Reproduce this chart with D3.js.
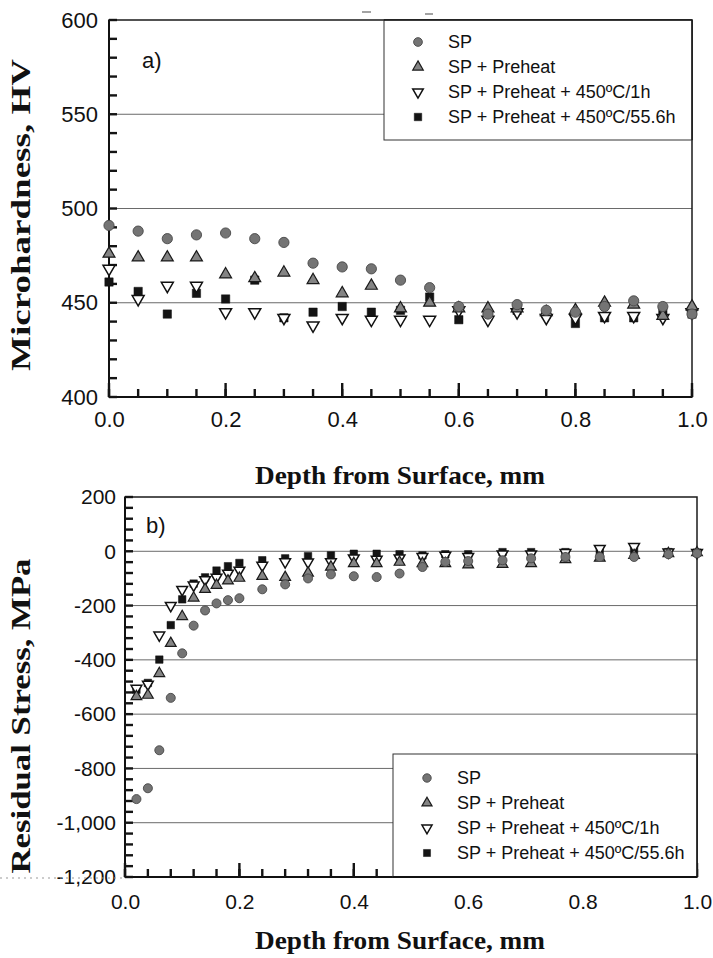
<!DOCTYPE html>
<html><head><meta charset="utf-8">
<script src="https://cdn.jsdelivr.net/npm/d3@7"></script>
<style>body{margin:0;background:#fff} svg{display:block}</style>
</head><body>
<svg id="c" width="713" height="958"></svg>
<script>
// ---------- data ----------
const seriesNames = ["SP", "SP + Preheat", "SP + Preheat + 450ºC/1h", "SP + Preheat + 450ºC/55.6h"];

// a) Microhardness
const hvDepth   = [0, 0.05, 0.10, 0.15, 0.20, 0.25, 0.30, 0.35, 0.40, 0.45, 0.50, 0.55, 0.60, 0.65, 0.70, 0.75, 0.80, 0.85, 0.90, 0.95, 1.00];
const hvSP      = [491, 488, 484, 486, 487, 484, 482, 471, 469, 468, 462, 458, 448, 444, 449, 446, 445, 448, 451, 448, 444];
const hvPreheat = [476, 474, 474, 474, 465, 463, 466, 462, 455, 459, 447, 450, 447, 447, 447, 445, 446, 450, 449, 443, 448];
const hv1h      = [468, 452, 459, 459, 445, 445, 442, 438, 442, 441, 441, 441, 446, 441, 445, 442, 442, 443, 443, 442, 445];
const hv556h    = [461, 456, 444, 455, 452, 462, 442, 445, 448, 445, 446, 453, 441, 443, 446, 444, 439, 442, 442, 445, 444];
const hvXTicks = [0, 0.2, 0.4, 0.6, 0.8, 1.0];
const hvXLabels = ["0.0", "0.2", "0.4", "0.6", "0.8", "1.0"];
const hvYTicks = [400, 450, 500, 550, 600];
const hvYLabels = ["400", "450", "500", "550", "600"];
const hvGrid = [450, 500, 550];

// b) Residual stress
const rsDepth   = [0.02, 0.04, 0.06, 0.08, 0.10, 0.12, 0.14, 0.16, 0.18, 0.20, 0.24, 0.28, 0.32, 0.36, 0.40, 0.44, 0.48, 0.52, 0.56, 0.60, 0.66, 0.71, 0.77, 0.83, 0.89, 0.95, 1.00];
const rsSP      = [-913, -873, -733, -540, -376, -274, -218, -192, -180, -173, -140, -122, -100, -85, -92, -95, -82, -58, -39, -36, -33, -26, -21, -21, -21, -11, -8];
const rsPreheat = [-535, -530, -450, -339, -240, -172, -140, -125, -109, -99, -92, -96, -80, -58, -45, -45, -40, -45, -45, -50, -48, -45, -30, -25, -15, -8, -5];
const rs1h      = [-505, -490, -309, -200, -141, -125, -105, -96, -81, -70, -52, -39, -40, -39, -25, -30, -25, -20, -15, -20, -10, -10, -5, 10, 17, -3, -5];
const rs556h    = [-510, -485, -399, -272, -177, -119, -96, -71, -55, -43, -33, -26, -18, -15, -9, -9, -11, -15, -11, -11, -3, -3, -3, -2, 5, -3, -5];
const rsXTicks = [0, 0.2, 0.4, 0.6, 0.8, 1.0];
const rsXLabels = ["0.0", "0.2", "0.4", "0.6", "0.8", "1.0"];
const rsYTicks = [-1200, -1000, -800, -600, -400, -200, 0, 200];
const rsYLabels = ["-1,200", "-1,000", "-800", "-600", "-400", "-200", "0", "200"];
const rsGrid = [-1000, -800, -600, -400, -200, 0];

// ---------- styles ----------
const sansFont = "'Liberation Sans', Arial, sans-serif";
const serifFont = "'Liberation Serif', 'Times New Roman', serif";
const tickColor = "#141414";
const markerStyles = [
  {type: d3.symbolCircle,   rot: 0,   fill: "#747474", stroke: "#474747", sw: 0.9},
  {type: d3.symbolTriangle, rot: 0,   fill: "#848484", stroke: "#1a1a1a", sw: 1.2},
  {type: d3.symbolTriangle, rot: 180, fill: "#ffffff", stroke: "#111111", sw: 1.5},
  {type: d3.symbolSquare,   rot: 0,   fill: "#141414", stroke: "#111111", sw: 0.5}
];

const svg = d3.select("#c");

function panel(cfg) {
  const g = svg.append("g");
  const x = d3.scaleLinear().domain([0, 1]).range([cfg.x0, cfg.x1]);
  const y = d3.scaleLinear().domain(cfg.yDomain).range([cfg.y1, cfg.y0]);

  // gridlines
  g.append("g").selectAll("line").data(cfg.grid).join("line")
    .attr("x1", cfg.x0).attr("x2", cfg.x1)
    .attr("y1", d => y(d)).attr("y2", d => y(d))
    .attr("stroke", "#6a6a6a").attr("stroke-width", 1);

  // tick labels
  const xl = g.append("g").attr("transform", `translate(0,${cfg.y1})`)
    .call(d3.axisBottom(x).tickValues(cfg.xTicks).tickSize(0).tickPadding(cfg.xPad).tickFormat((d, i) => cfg.xLabels[i]));
  xl.select(".domain").remove();
  xl.selectAll("text").attr("font-family", sansFont).attr("font-size", cfg.tickFs).attr("fill", "#111");
  const yl = g.append("g").attr("transform", `translate(${cfg.x0},0)`)
    .call(d3.axisLeft(y).tickValues(cfg.yTicks).tickSize(0).tickPadding(cfg.yPad).tickFormat((d, i) => cfg.yLabels[i]));
  yl.select(".domain").remove();
  yl.selectAll("text").attr("font-family", sansFont).attr("font-size", cfg.tickFs).attr("fill", "#111");

  // frame
  g.append("rect").attr("x", cfg.x0).attr("y", cfg.y0)
    .attr("width", cfg.x1 - cfg.x0).attr("height", cfg.y1 - cfg.y0)
    .attr("fill", "none").attr("stroke", "#1a1a1a").attr("stroke-width", 1.5);
  g.append("line").attr("x1", cfg.x0).attr("x2", cfg.x0).attr("y1", cfg.y0).attr("y2", cfg.y1)
    .attr("stroke", "#111").attr("stroke-width", 2);
  g.append("line").attr("x1", cfg.x0).attr("x2", cfg.x1).attr("y1", cfg.y1).attr("y2", cfg.y1)
    .attr("stroke", "#111").attr("stroke-width", 2);

  // inward ticks
  const xMinorVals = d3.range(0, 1.0001, cfg.xMinor);
  const yMinorVals = d3.range(cfg.yDomain[0], cfg.yDomain[1] + 0.001, cfg.yMinor);
  g.append("g").selectAll("rect").data(xMinorVals).join("rect")
    .attr("x", d => x(d) - 1.2).attr("y", cfg.y1 - 8).attr("width", 2.4).attr("height", 8)
    .attr("fill", tickColor);
  g.append("g").selectAll("rect").data(cfg.xTicks).join("rect")
    .attr("x", d => x(d) - 1.2).attr("y", cfg.y1 - 14).attr("width", 2.4).attr("height", 14)
    .attr("fill", tickColor);
  g.append("g").selectAll("rect").data(yMinorVals).join("rect")
    .attr("x", cfg.x0).attr("y", d => y(d) - 1.2).attr("width", 8).attr("height", 2.4)
    .attr("fill", tickColor);

  // legend
  const L = cfg.legend;
  g.append("rect").attr("x", L.x).attr("y", L.y).attr("width", cfg.x1 - L.x).attr("height", L.h)
    .attr("fill", "#fff").attr("stroke", "#333").attr("stroke-width", 1);
  g.append("line").attr("x1", cfg.x1).attr("x2", cfg.x1).attr("y1", L.y).attr("y2", L.y + L.h)
    .attr("stroke", "#1a1a1a").attr("stroke-width", 1.5);
  if (L.y + L.h >= cfg.y1) {
    g.append("line").attr("x1", L.x).attr("x2", cfg.x1).attr("y1", cfg.y1).attr("y2", cfg.y1)
      .attr("stroke", "#111").attr("stroke-width", 2);
  } else {
    g.append("line").attr("x1", L.x).attr("x2", cfg.x1).attr("y1", cfg.y0).attr("y2", cfg.y0)
      .attr("stroke", "#1a1a1a").attr("stroke-width", 1.5);
  }
  seriesNames.forEach((name, i) => {
    const ms = markerStyles[i];
    const cy = L.rows[i];
    g.append("path")
      .attr("d", d3.symbol().type(ms.type).size(cfg.legendSizes[i])())
      .attr("transform", `translate(${L.sx},${cy}) rotate(${ms.rot})`)
      .attr("fill", ms.fill).attr("stroke", ms.stroke).attr("stroke-width", ms.sw);
    g.append("text").attr("x", L.tx).attr("y", cy).attr("dy", "0.36em")
      .attr("font-family", sansFont).attr("font-size", L.fs).attr("fill", "#111")
      .text(name);
  });

  // data points (draw order: squares, ∇, triangles, circles)
  [3, 2, 1, 0].forEach(i => {
    const ms = markerStyles[i];
    const vals = cfg.series[i];
    g.append("g").selectAll("path").data(cfg.depth.map((d, k) => [d, vals[k]])).join("path")
      .attr("d", d3.symbol().type(ms.type).size(cfg.sizes[i])())
      .attr("transform", d => `translate(${x(d[0])},${y(d[1])}) rotate(${ms.rot})`)
      .attr("fill", ms.fill).attr("stroke", ms.stroke).attr("stroke-width", ms.sw);
  });

  // panel label
  g.append("text").attr("x", cfg.tag[0]).attr("y", cfg.tag[1])
    .attr("font-family", sansFont).attr("font-size", 22).attr("fill", "#111").text(cfg.tagText);

  // axis titles
  g.append("text").attr("x", 400).attr("y", cfg.xTitleY)
    .attr("text-anchor", "middle").attr("font-family", serifFont).attr("font-weight", "bold")
    .attr("font-size", 26).attr("textLength", 290).attr("lengthAdjust", "spacingAndGlyphs")
    .attr("fill", "#111").text("Depth from Surface, mm");
  g.append("text").attr("transform", `translate(30,${cfg.yTitleC}) rotate(-90)`)
    .attr("text-anchor", "middle").attr("font-family", serifFont).attr("font-weight", "bold")
    .attr("font-size", 27).attr("textLength", cfg.yTitleLen).attr("lengthAdjust", "spacingAndGlyphs")
    .attr("fill", "#111").text(cfg.yTitle);
}

panel({
  x0: 109, x1: 692, y0: 20, y1: 397, yDomain: [400, 600],
  xMinor: 0.05, yMinor: 10, xTicks: hvXTicks, xLabels: hvXLabels, yTicks: hvYTicks, yLabels: hvYLabels,
  grid: hvGrid, xPad: 14, yPad: 11, tickFs: 22,
  depth: hvDepth, series: [hvSP, hvPreheat, hv1h, hv556h],
  sizes: [82, 62, 62, 70], legendSizes: [60, 48, 48, 56],
  legend: {x: 384, y: 20, h: 120, sx: 418, tx: 448, fs: 18, rows: [42, 67, 92, 117]},
  tag: [142, 68], tagText: "a)",
  xTitleY: 484, yTitle: "Microhardness, HV", yTitleC: 215, yTitleLen: 312
});

panel({
  x0: 125, x1: 697, y0: 497, y1: 877, yDomain: [-1200, 200],
  xMinor: 0.04, yMinor: 40, xTicks: rsXTicks, xLabels: rsXLabels, yTicks: rsYTicks, yLabels: rsYLabels,
  grid: rsGrid, xPad: 17, yPad: 9, tickFs: 21,
  depth: rsDepth, series: [rsSP, rsPreheat, rs1h, rs556h],
  sizes: [64, 50, 50, 56], legendSizes: [56, 44, 44, 50],
  legend: {x: 393, y: 754, h: 123, sx: 427, tx: 457, fs: 18, rows: [778, 803, 828, 853]},
  tag: [146, 533], tagText: "b)",
  xTitleY: 949, yTitle: "Residual Stress, MPa", yTitleC: 716, yTitleLen: 315
});

// scan artifacts
svg.append("line").attr("x1", 0).attr("x2", 125).attr("y1", 878).attr("y2", 878)
  .attr("stroke", "#999").attr("stroke-width", 1).attr("stroke-dasharray", "2,4");
svg.append("line").attr("x1", 362).attr("x2", 371).attr("y1", 12).attr("y2", 12).attr("stroke", "#666").attr("stroke-width", 1.2);
svg.append("line").attr("x1", 425).attr("x2", 433).attr("y1", 14).attr("y2", 14).attr("stroke", "#666").attr("stroke-width", 1.2);
</script>
</body></html>
